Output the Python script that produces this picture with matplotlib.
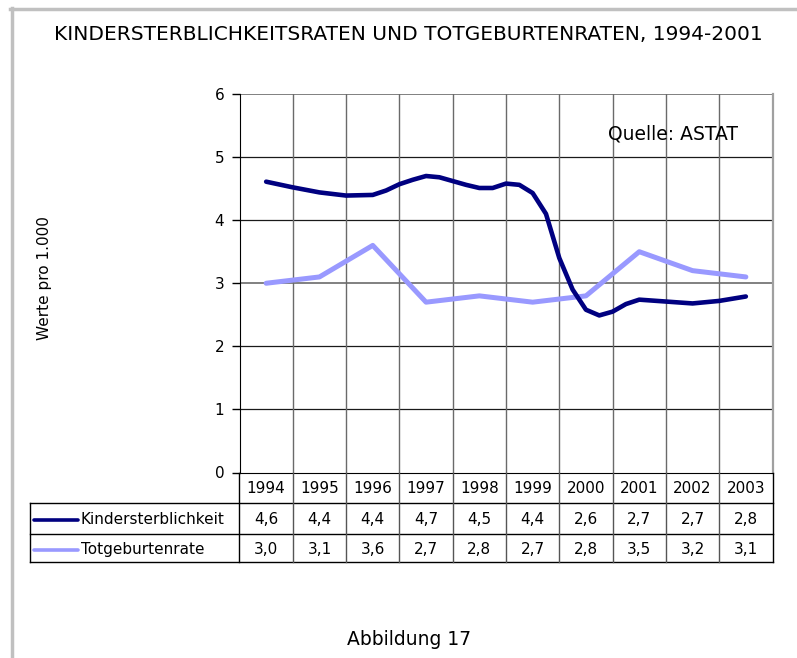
import numpy as np
import matplotlib
matplotlib.use("Agg")
import matplotlib.pyplot as plt
from matplotlib.lines import Line2D

# Data from the chart
jahre = [1994, 1995, 1996, 1997, 1998, 1999, 2000, 2001, 2002, 2003]
kindersterblichkeit = [4.6, 4.4, 4.4, 4.7, 4.5, 4.4, 2.6, 2.7, 2.7, 2.8]
totgeburtenrate = [3.0, 3.1, 3.6, 2.7, 2.8, 2.7, 2.8, 3.5, 3.2, 3.1]

# The dark curve in the plot is drawn from finer (smoothed) points than the table
kinder_kurve_jahr = [1994, 1994.5, 1995, 1995.5, 1996, 1996.25, 1996.5, 1996.75,
                     1997, 1997.25, 1997.5, 1997.75, 1998, 1998.25, 1998.5, 1998.75,
                     1999, 1999.25, 1999.5, 1999.75, 2000, 2000.25, 2000.5, 2000.75,
                     2001, 2001.5, 2002, 2002.5, 2003]
kinder_kurve_wert = [4.61, 4.52, 4.44, 4.39, 4.40, 4.47, 4.57, 4.64,
                     4.70, 4.68, 4.62, 4.56, 4.51, 4.51, 4.58, 4.56,
                     4.43, 4.10, 3.40, 2.90, 2.58, 2.49, 2.55, 2.67,
                     2.74, 2.71, 2.68, 2.72, 2.79]

y_ticks = [0, 1, 2, 3, 4, 5, 6]
serien_namen = ["Kindersterblichkeit", "Totgeburtenrate"]

DUNKEL = "#000080"
HELL = "#9999ff"

W, H = 797, 658


def fx(px):
    return px / W


def fy(py):
    return 1 - py / H


def fmt(v):
    # German decimal comma
    return f"{v:.1f}".replace(".", ",")


fig = plt.figure(figsize=(W / 100, H / 100), dpi=100)
plt.rcParams['font.family'] = ['DejaVu Sans']

# plot area in pixels
left, right, top, bottom = 239.5, 772.5, 94, 472.5
ax = fig.add_axes([fx(left), fy(bottom), (right - left) / W, (bottom - top) / H])
ax.set_xlim(-0.5, len(jahre) - 0.5)
ax.set_ylim(0, 6)

# grid lines
for t in y_ticks[1:]:
    if t in (3, 6):
        ax.axhline(t, color="#808080", lw=1.4, zorder=1)
    else:
        ax.axhline(t, color="#1a1a1a", lw=0.9, zorder=1)
for i in range(len(jahre) - 1):
    ax.axvline(i + 0.5, color="#6a6a6a", lw=1.0, zorder=1)

x_idx = np.arange(len(jahre))
kurve_idx = np.array(kinder_kurve_jahr) - jahre[0]

ax.plot(x_idx, totgeburtenrate, color=HELL, lw=3.6, solid_capstyle="round",
        solid_joinstyle="round", zorder=3)
ax.plot(kurve_idx, kinder_kurve_wert, color=DUNKEL, lw=3.3, solid_capstyle="round",
        solid_joinstyle="round", zorder=4)

ax.set_yticks(y_ticks)
ax.set_xticks([])
ax.tick_params(axis="y", direction="out", length=6, width=1, pad=5, labelsize=11)
ax.spines["left"].set_color("black")
ax.spines["bottom"].set_color("black")
ax.spines["top"].set_visible(False)
ax.spines["right"].set_color("#a0a0a0")
ax.spines["right"].set_linewidth(1.6)

ax.text((608 - left) / (right - left), (bottom - 139.5) / (bottom - top), "Quelle: ASTAT",
        transform=ax.transAxes, ha="left", va="baseline", fontsize=13.5, zorder=5)

# data table below the plot, same x scale as the plot
tab_left = 30
row_lines = [472.5, 502.7, 534.3, 561.7]
px_per_unit = (right - left) / len(jahre)


def ux(px):
    return -0.5 + (px - left) / px_per_unit


tab = fig.add_axes([fx(tab_left), fy(row_lines[-1]), (right - tab_left) / W,
                    (row_lines[-1] - row_lines[0]) / H])
tab.set_xlim(ux(tab_left), len(jahre) - 0.5)
tab.set_ylim(row_lines[-1], row_lines[0])
tab.axis("off")

# horizontal table lines
for y in row_lines[1:]:
    tab.plot([ux(tab_left), len(jahre) - 0.5], [y, y], color="black", lw=1, clip_on=False)
# vertical table lines
tab.plot([-0.5, -0.5], [row_lines[0], row_lines[-1]], color="black", lw=1, clip_on=False)
tab.plot([len(jahre) - 0.5] * 2, [row_lines[0], row_lines[-1]], color="black", lw=1,
         clip_on=False)
tab.plot([ux(tab_left)] * 2, [row_lines[1], row_lines[-1]], color="black", lw=1,
         clip_on=False)
for i in range(len(jahre) - 1):
    tab.plot([i + 0.5, i + 0.5], [row_lines[0], row_lines[-1]], color="#555555", lw=1,
             clip_on=False)

# header and values
for i, j in enumerate(jahre):
    tab.text(i, 488.5, str(j), ha="center", va="center", fontsize=11)
for r, (werte, name, farbe) in enumerate(zip([kindersterblichkeit, totgeburtenrate],
                                             serien_namen, [DUNKEL, HELL])):
    yc = (row_lines[r + 1] + row_lines[r + 2]) / 2 + 1.5
    for i, v in enumerate(werte):
        tab.text(i, yc, fmt(v), ha="center", va="center", fontsize=11)
    tab.plot([ux(34), ux(78)], [yc, yc], color=farbe, lw=2.6, solid_capstyle="round")
    tab.text(ux(81), yc, name, ha="left", va="center", fontsize=11)

# axis title
fig.text(fx(45), fy(278.5), "Werte pro 1.000", rotation=90, ha="center", va="center",
         fontsize=11)

# chart title and caption
fig.text(fx(408), fy(40), "KINDERSTERBLICHKEITSRATEN UND TOTGEBURTENRATEN, 1994-2001",
         ha="center", va="baseline", fontsize=14.5)
fig.text(fx(409), fy(645), "Abbildung 17", ha="center", va="baseline", fontsize=13.5)

# gray frame on top and left
fig.add_artist(Line2D([fx(10), 1], [fy(9), fy(9)], color="#c0c0c0", lw=2.5))
fig.add_artist(Line2D([fx(11.7), fx(11.7)], [fy(7.5), 0], color="#c0c0c0", lw=2.5))

fig.savefig("out.png", dpi=100)
